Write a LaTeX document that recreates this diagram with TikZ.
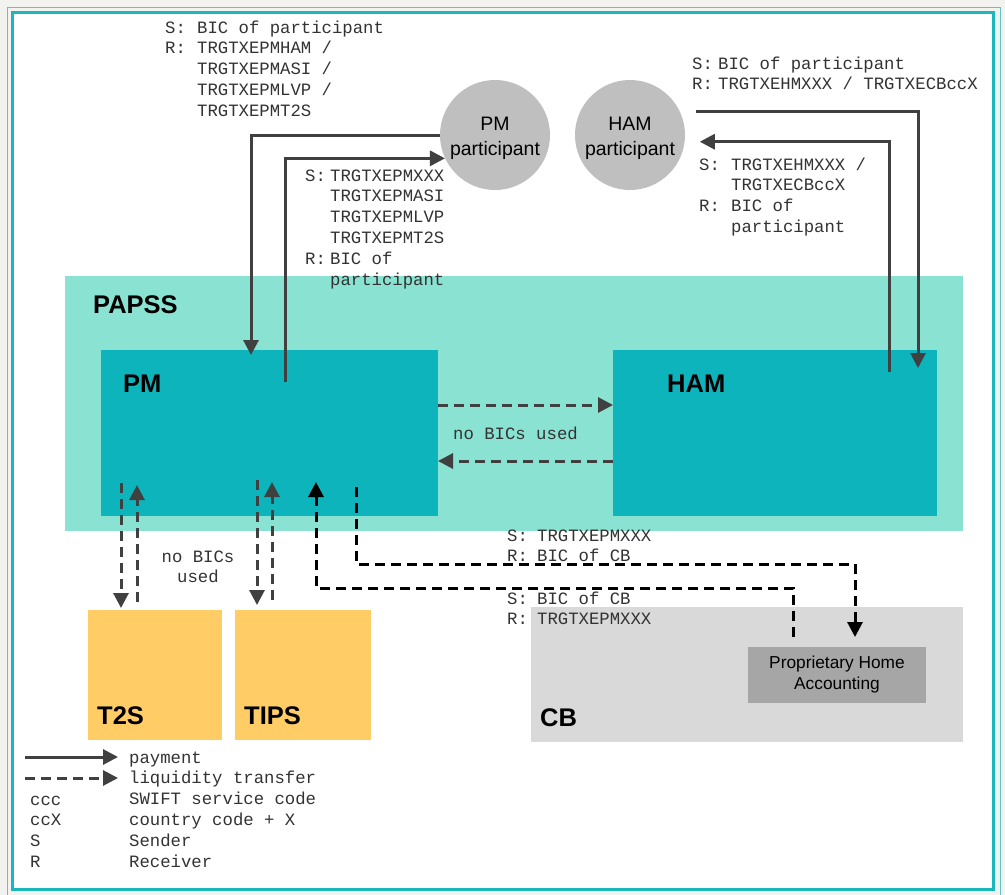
\documentclass[tikz,border=0pt]{standalone}
\usepackage{fontspec}
\setmainfont{Liberation Sans}
\setmonofont{Liberation Mono}
\usetikzlibrary{arrows.meta}
\definecolor{frameteal}{HTML}{1BB7BD}
\definecolor{thinteal}{HTML}{5CC6C4}
\definecolor{bggray}{HTML}{F2F2EF}
\definecolor{papssteal}{HTML}{89E2D2}
\definecolor{boxteal}{HTML}{0DB4BC}
\definecolor{partgray}{HTML}{BFBFBF}
\definecolor{cbgray}{HTML}{D9D9D9}
\definecolor{phagray}{HTML}{A6A6A6}
\definecolor{extorange}{HTML}{FFCC66}
\definecolor{arrgray}{HTML}{404040}
\definecolor{txtgray}{HTML}{333333}
% sender / receiver block
\newcommand\srtab[2]{\begin{tabular}[t]{@{}l@{\hspace{#1}}l@{}}#2\end{tabular}}
\newcommand\parttext[1]{\raisebox{-3pt}[\height][\depth]{\begin{tabular}{@{}c@{}}#1\end{tabular}}}
\begin{document}
\begin{tikzpicture}[x=1pt,y=-1pt,
   mono/.style={font=\ttfamily\fontsize{17.3}{20.8}\selectfont,text=txtgray,inner sep=0pt,anchor=base west},
   area/.style={anchor=north west,inner sep=0pt,outer sep=0pt},
   title/.style={font=\bfseries\fontsize{25.5}{30}\selectfont,inner sep=0pt,anchor=base west},
   part/.style={circle,fill=partgray,minimum size=110pt,inner sep=0pt,align=center,font=\fontsize{19.5}{25}\selectfont},
   pay/.style={-{Triangle[length=15pt,width=15pt]},line width=3pt,draw=arrgray},
   liq/.style={pay,dash pattern=on 10pt off 6pt},
   cbliq/.style={liq,draw=black}]
\useasboundingbox (0,0) rectangle (1005,895);
\fill[bggray] (0,0) rectangle (1005,895);
\draw[thinteal,line width=1.6pt] (7.5,7.5) rectangle (1000.5,905);
\draw[frameteal,line width=3pt,fill=white] (12.5,12.5) rectangle (993.5,889.5);

% areas
\node[area,fill=papssteal,minimum width=898pt,minimum height=255pt] (papss) at (65,276) {};
\node[area,fill=boxteal,minimum width=337pt,minimum height=166pt] (pm) at (101,350) {};
\node[area,fill=boxteal,minimum width=324pt,minimum height=166pt] (ham) at (613,350) {};
\node[area,fill=extorange,minimum width=134pt,minimum height=130pt] (t2s) at (88,610) {};
\node[area,fill=extorange,minimum width=136pt,minimum height=130pt] (tips) at (235,610) {};
\node[area,fill=cbgray,minimum width=432pt,minimum height=135pt] (cb) at (531,607) {};
\node[area,fill=phagray,minimum width=178pt,minimum height=56pt,align=center,
      font=\fontsize{17.3}{21}\selectfont] (pha) at (748,647) {Proprietary Home\\Accounting};

\node[title] (papsslbl) at (93,313) {PAPSS};
\node[title] (pmlbl) at (123,392) {PM};
\node[title] (hamlbl) at (667,392) {HAM};
\node[title] (t2slbl) at (97,724) {T2S};
\node[title] (tipslbl) at (244,724) {TIPS};
\node[title] (cblbl) at (540,726) {CB};

% participants
\node[part] (pmpart) at (495,135) {\parttext{PM\\participant}};
\node[part] (hampart) at (630,135) {\parttext{HAM\\participant}};

% payments
\draw[pay,shorten >=-5pt] (pmpart.west) -| (251,0 |- pm.north);
\draw[pay,shorten <=-32pt] (pm.north -| 285,0) |- (pmpart.205);
\draw[pay,shorten <=16pt,shorten >=-18pt] (hampart.25) -| (918,0 |- ham.north);
\draw[pay,shorten <=-22pt,shorten >=15pt] (ham.north -| 889,0) |- (hampart.-7);

% liquidity transfers
\draw[liq] (pm.east |- 0,405) -- (ham.west |- 0,405);
\draw[liq] (ham.west |- 0,461) -- (pm.east |- 0,461);
\draw[liq,shorten <=-33pt,shorten >=2pt] (pm.south -| 121,0) -- (t2s.north -| 121,0);
\draw[liq,shorten <=8pt,shorten >=-31pt] (t2s.north -| 137,0) -- (pm.south -| 137,0);
\draw[liq,shorten <=-36pt,shorten >=5pt] (pm.south -| 257,0) -- (tips.north -| 257,0);
\draw[liq,shorten <=10pt,shorten >=-34pt] (tips.north -| 272,0) -- (pm.south -| 272,0);
\draw[cbliq,shorten <=10pt,shorten >=-34pt] (pha.north -| 793,0) -- ++(0,-59) -| (pm.south -| 316,0);
\draw[cbliq,shorten <=-29pt,shorten >=10pt] (pm.south -| 356,0) -- ++(0,48) -| (pha.north -| 855,0);

% sender / receiver texts
\node[mono] (srpmpay) at (165,33) {\srtab{11.2pt}{S:&BIC of participant\\R:&TRGTXEPMHAM /\\&TRGTXEPMASI /\\&TRGTXEPMLVP /\\&TRGTXEPMT2S}};
\node[mono] (srhampay) at (692,69) {\srtab{5.2pt}{S:&BIC of participant\\R:&TRGTXEHMXXX / TRGTXECBccX}};
\node[mono] (srpmback) at (305,181) {\srtab{4.2pt}{S:&TRGTXEPMXXX\\&TRGTXEPMASI\\&TRGTXEPMLVP\\&TRGTXEPMT2S\\R:&BIC of\\&participant}};
\node[mono] (srhamback) at (699,170) {\srtab{11.2pt}{S:&TRGTXEHMXXX /\\&TRGTXECBccX\\R:&BIC of\\&participant}};
\node[mono] (srtocb) at (507,541) {\srtab{9.2pt}{S:&TRGTXEPMXXX\\R:&BIC of CB}};
\node[mono] (srfromcb) at (507,604) {\srtab{9.2pt}{S:&BIC of CB\\R:&TRGTXEPMXXX}};
\node[mono] (nobics) at (453,439) {no BICs used};
\node[mono,anchor=base] (nobicsext) at (198,562) {\begin{tabular}[t]{@{}c@{}}no BICs\\used\end{tabular}};

% legend
\node[mono] (lgtxt) at (129,763) {\begin{tabular}[t]{@{}l@{}}payment\\liquidity transfer\\SWIFT service code\\country code + X\\Sender\\Receiver\end{tabular}};
\node[mono] (lgkey) at (30,805) {\begin{tabular}[t]{@{}l@{}}ccc\\ccX\\S\\R\end{tabular}};
\draw[pay] ([xshift=-104pt,yshift=6pt]lgtxt.base west) -- ([xshift=-11pt,yshift=6pt]lgtxt.base west);
\draw[liq] ([xshift=-104pt,yshift=-15pt]lgtxt.base west) -- ([xshift=-11pt,yshift=-15pt]lgtxt.base west);
\end{tikzpicture}
\end{document}
